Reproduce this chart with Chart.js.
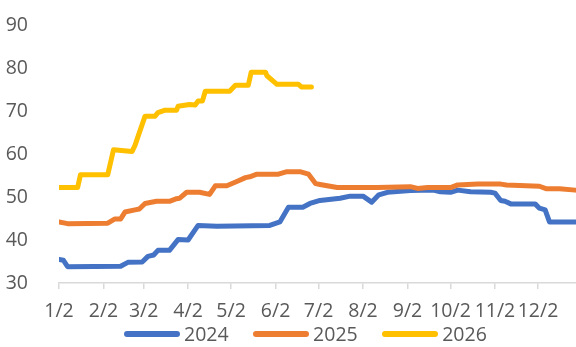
<!DOCTYPE html>
<html>
<head>
<meta charset="utf-8">
<script src="https://cdn.jsdelivr.net/npm/chart.js@4.4.3/dist/chart.umd.min.js"></script>
<style>
  html, body { margin: 0; padding: 0; background: #fff; }
  #wrap { position: relative; width: 576px; height: 347px; }
  #legend {
    position: absolute; left: 124px; top: 324px; height: 20px;
    display: flex; align-items: center;
    font: 19.5px "Open Sans", sans-serif; color: #595959;
  }
  .item { display: flex; align-items: center; margin-right: 24.5px; line-height: 20px; }
  .swatch { width: 56px; height: 5.5px; border-radius: 3px; margin-right: 4px; }
</style>
</head>
<body>
<div id="wrap">
  <canvas id="chart"></canvas>
  <div id="legend"></div>
</div>
<script>
const tickLabels = ['1/2', '2/2', '3/2', '4/2', '5/2', '6/2', '7/2', '8/2', '9/2', '10/2', '11/2', '12/2'];
const yTicks = [30, 40, 50, 60, 70, 80, 90];

const dates2024 = ['1/2', '1/5', '1/8', '2/14', '2/19', '3/1', '3/5', '3/9', '3/12', '3/20', '3/26', '4/2', '4/9', '4/22',
  '5/29', '6/5', '6/11', '6/21', '6/26', '7/3', '7/17', '7/24', '8/2', '8/8', '8/13', '8/19', '9/4', '9/20', '9/25',
  '10/2', '10/7', '10/16', '10/30', '11/2', '11/6', '11/9', '11/13', '11/30', '12/3', '12/7', '12/10', '12/28'];
const values2024 = [35.5, 35.3, 33.8, 33.9, 34.8, 34.9, 36.2, 36.5, 37.6, 37.6, 40.1, 40.0, 43.4, 43.2,
  43.4, 44.2, 47.6, 47.6, 48.5, 49.2, 49.7, 50.2, 50.2, 48.8, 50.5, 51.1, 51.5, 51.6, 51.2,
  51.1, 51.6, 51.2, 51.1, 50.9, 49.2, 49.0, 48.4, 48.4, 47.4, 47.0, 44.2, 44.2];

const dates2025 = ['1/2', '1/8', '2/5', '2/10', '2/14', '2/17', '2/24', '2/27', '3/3', '3/11', '3/20', '3/25', '3/27',
  '4/1', '4/10', '4/17', '4/21', '4/29', '5/6', '5/12', '5/15', '5/20', '6/4', '6/10', '6/19', '6/25', '6/30',
  '7/3', '7/8', '7/15', '8/12', '9/4', '9/9', '9/16', '10/2', '10/7', '10/21', '11/6', '11/10', '12/3', '12/8',
  '12/17', '12/28'];
const values2025 = [44.2, 43.8, 43.9, 44.9, 44.9, 46.5, 47.0, 47.2, 48.5, 49.0, 49.0, 49.6, 49.7,
  51.1, 51.1, 50.6, 52.6, 52.6, 53.6, 54.5, 54.7, 55.3, 55.3, 55.9, 55.9, 55.3, 53.1,
  52.9, 52.6, 52.2, 52.2, 52.4, 52.0, 52.2, 52.2, 52.8, 53.0, 53.0, 52.8, 52.5, 51.9,
  51.9, 51.6];

const dates2026 = ['1/2', '1/15', '1/17', '2/5', '2/9', '2/22', '2/24', '2/25', '3/3', '3/10', '3/12', '3/17', '3/25',
  '3/26', '4/3', '4/7', '4/9', '4/12', '4/14', '5/1', '5/5', '5/14', '5/16', '5/26', '5/27', '6/3', '6/18',
  '6/20', '6/27'];
const values2026 = [52.2, 52.2, 55.2, 55.2, 61.0, 60.6, 62.0, 63.0, 68.8, 68.8, 69.6, 70.2, 70.2,
  71.1, 71.5, 71.4, 72.3, 72.3, 74.6, 74.6, 76.0, 76.0, 79.0, 79.0, 78.2, 76.2, 76.2,
  75.6, 75.6];

// days before each month (common year), used to place m/d on a linear axis
const monthStart = [0, 31, 59, 90, 120, 151, 181, 212, 243, 273, 304, 334];
function dayOfYear(md) {
  const [m, d] = md.split('/').map(Number);
  return monthStart[m - 1] + d - 1;
}
function points(dates, values) {
  return dates.map((md, i) => ({ x: dayOfYear(md), y: values[i] }));
}

const FONT = { family: '"Open Sans", sans-serif', size: 19.5 };
const TEXT = '#595959';
const AXIS = '#d9d9d9';

function line(label, dates, values, color, order) {
  return {
    label,
    data: points(dates, values),
    borderColor: color,
    backgroundColor: color,
    borderWidth: 5,
    borderCapStyle: 'round',
    borderJoinStyle: 'round',
    pointRadius: 0,
    tension: 0,
    order,
  };
}

const chart = new Chart(document.getElementById('chart'), {
  type: 'line',
  data: {
    datasets: [
      line('2024', dates2024, values2024, '#4472C4', 3),
      line('2025', dates2025, values2025, '#ED7D31', 2),
      line('2026', dates2026, values2026, '#FFC000', 1),
    ],
  },
  options: {
    responsive: true,
    maintainAspectRatio: false,
    animation: false,
    devicePixelRatio: 1,
    layout: { padding: { top: 25, right: 0, bottom: 0, left: 0 } },
    plugins: { legend: { display: false }, tooltip: { enabled: false } },
    scales: {
      x: {
        type: 'linear',
        min: 1,
        max: 361.5,
        afterFit: (scale) => { scale.height = 64; scale.paddingLeft = 0; scale.paddingRight = 0; },
        afterBuildTicks: (scale) => {
          scale.ticks = tickLabels.map((t) => ({ value: dayOfYear(t) }));
        },
        ticks: {
          autoSkip: false,
          maxRotation: 0,
          padding: 11,
          color: TEXT,
          font: FONT,
          callback: (value, index) => tickLabels[index],
        },
        grid: { display: true, drawOnChartArea: false, drawTicks: true, tickLength: 6, color: AXIS, lineWidth: 1.5 },
        border: { display: true, color: AXIS, width: 1.5 },
      },
      y: {
        min: 30,
        max: 90,
        afterFit: (scale) => { scale.width = 59; scale.paddingTop = 0; scale.paddingBottom = 0; },
        afterBuildTicks: (scale) => {
          scale.ticks = yTicks.map((v) => ({ value: v }));
        },
        ticks: { padding: 23, color: TEXT, font: FONT },
        grid: { display: false },
        border: { display: false },
      },
    },
  },
});

// legend in the page, built from the chart's own datasets
const legend = document.getElementById('legend');
chart.data.datasets.forEach((ds) => {
  const item = document.createElement('div');
  item.className = 'item';
  const sw = document.createElement('span');
  sw.className = 'swatch';
  sw.style.background = ds.borderColor;
  const txt = document.createElement('span');
  txt.textContent = ds.label;
  item.appendChild(sw);
  item.appendChild(txt);
  legend.appendChild(item);
});
</script>
</body>
</html>
